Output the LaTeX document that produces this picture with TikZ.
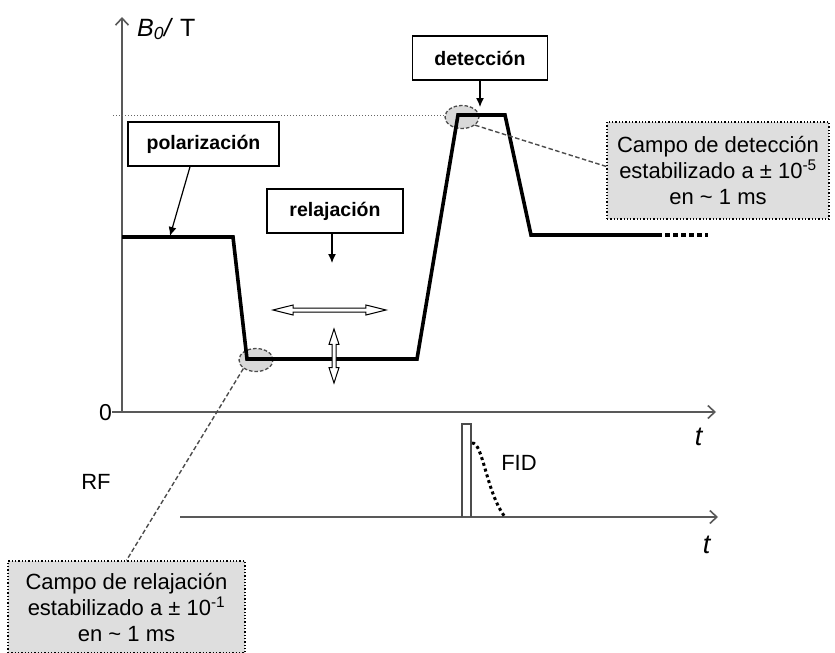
\documentclass[tikz,border=0pt]{standalone}
\usepackage{fontspec}
\setmainfont{Liberation Sans}
\usetikzlibrary{arrows.meta, positioning, shapes.arrows, shapes.geometric}

\begin{document}
\begin{tikzpicture}[x=1pt,y=-1pt,>=stealth, font=\fontsize{22}{26}\selectfont,
  eje/.style={draw=black!65, line width=1.6pt, -{Straight Barb[length=7pt,width=13pt]}},
  senal/.style={line width=3.6pt, line join=miter},
  etiqueta/.style={draw, line width=1.5pt, fill=white, minimum height=44pt, font=\fontsize{19.5}{22}\selectfont\bfseries},
  nota/.style={draw, dotted, line width=1.3pt, fill=black!13, align=center},
  zona/.style={ellipse, draw=black!70, dash pattern=on 3.5pt off 2pt, line width=1.3pt, fill=black!15, minimum width=34pt, minimum height=23pt, inner sep=0pt},
  guia/.style={draw=black!70, dash pattern=on 4.5pt off 2.5pt, line width=1.4pt},
  flecha/.style={->, line width=1.2pt, -{Latex[length=9pt,width=8pt]}},
  hueca/.style={double arrow, draw, line width=1pt, fill=white, inner sep=1.5pt, double arrow head extend=3pt}]

\useasboundingbox (0,0) rectangle (835,653);

% --- Campo B0: ejes
\draw[eje] (122,412) -- (122,17);
\draw[eje] (112,412) -- (716,412);
\node[anchor=west, inner sep=0pt] (ejeB) at (137,29) {\fontsize{25}{28}\selectfont\textit{B\textsubscript{0}/} T};
\node[anchor=east, inner sep=0pt] (cero) at (112,413) {\fontsize{23}{26}\selectfont 0};
\node (tB) at (699,437) {\fontsize{27}{28}\selectfont\textit{t}};
\draw[black!60, dotted, line width=1pt] (113,115) -- (450,115);

% --- Zonas de estabilizacion
\node[zona] (zrel) at (256,360) {};
\node[zona] (zdet) at (462,117) {};

% --- Ciclo de campo
\draw[senal] (122,237) -- (233,237) -- (247,359) -- (417,359) -- (458,115)
  -- (505,115) -- (531,235) -- (657,235);
\draw[line width=3.4pt, dash pattern=on 5pt off 3pt] (657,235) -- (708,235);

% --- Etiquetas de las fases
\node[etiqueta, minimum width=151pt] (pol) at (203.5,144) {polarización};
\node[etiqueta, minimum width=136pt] (rel) at (335,211) {relajación};
\node[etiqueta, minimum width=135pt] (det) at (480,58) {detección};
\coordinate (polpt) at (170,236);
\coordinate (relpt) at (332,263);
\coordinate (detpt) at (480,107);
\draw[flecha] ([xshift=-13.5pt]pol.south) -- (polpt);
\draw[flecha] ([xshift=-3pt]rel.south) -- (relpt);
\draw[flecha] (det.south) -- (detpt);

% --- Variaciones del campo de relajacion
\node[hueca, minimum height=113pt, minimum width=10pt, double arrow tip angle=28] (varh) at (329.5,310) {};
\node[hueca, rotate=90, minimum height=54pt, minimum width=9pt, double arrow tip angle=36] (varv) at (334,356) {};

% --- Notas
\node[nota, minimum width=222pt, minimum height=97pt] (ndet) at (718,170.5)
  {Campo de detección\\estabilizado a ± 10\textsuperscript{-5}\\en \textasciitilde{} 1 ms};
\node[nota, minimum width=237pt, minimum height=92pt] (nrel) at (126.5,607)
  {Campo de relajación\\estabilizado a ± 10\textsuperscript{-1}\\en \textasciitilde{} 1 ms};
\draw[guia] (zdet.-32) -- ([yshift=4pt]ndet.west);
\draw[guia] (zrel.214) -- (nrel.north);

% --- RF: pulso y FID
\draw[eje] (180,517) -- (718,517);
\node (rf) at (96,482) {RF};
\node (tRF) at (707,545) {\fontsize{27}{28}\selectfont\textit{t}};
\draw[black!70, line width=1.2pt] (462,517) -- (462,424) -- (471,424) -- (471,517);
\draw[line width=3pt, dash pattern=on 3pt off 3pt] (472,443) .. controls (483,442) and (486,492) .. (505,517);
\node (fid) at (519,463) {FID};
\end{tikzpicture}
\end{document}
